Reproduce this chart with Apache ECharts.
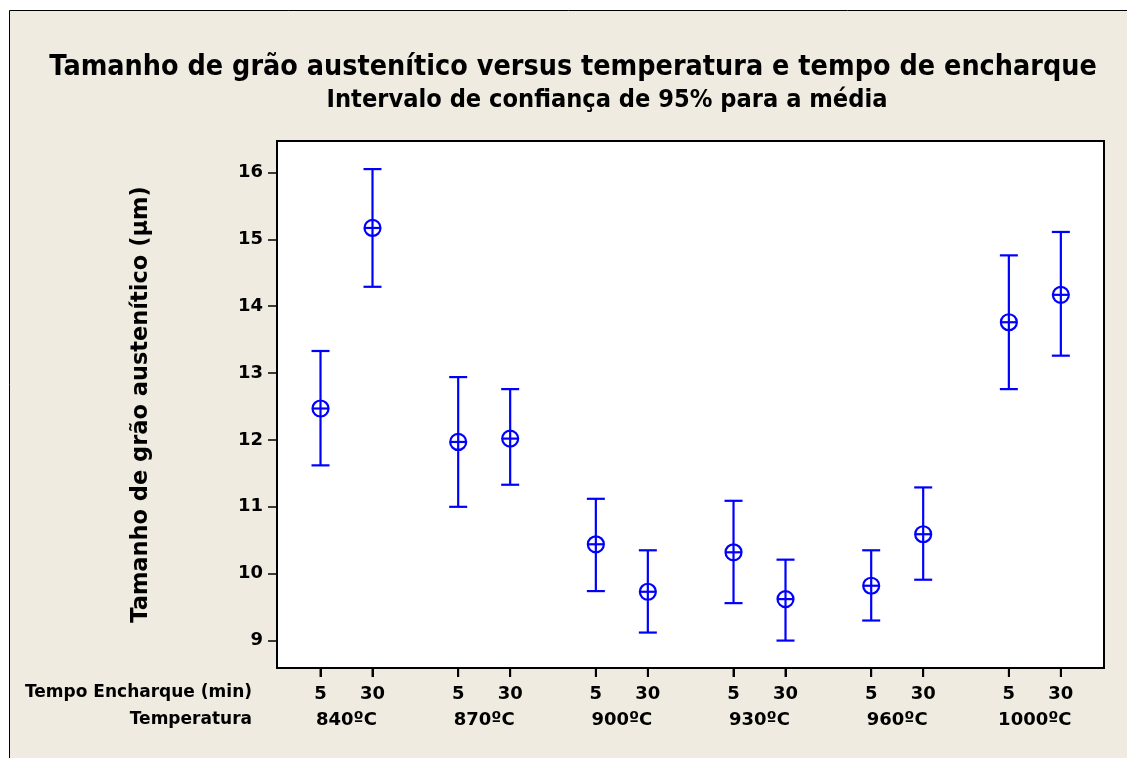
<!DOCTYPE html>
<html>
<head>
<meta charset="utf-8">
<script src="https://cdn.jsdelivr.net/npm/echarts@6/dist/echarts.min.js"></script>
<style>
html,body{margin:0;padding:0;background:#fff;}
#chart{width:1127px;height:758px;}
</style>
</head>
<body>
<div id="chart"></div>
<script>
// ---- data ----
var temperatures = ['840ºC', '870ºC', '900ºC', '930ºC', '960ºC', '1000ºC'];
var soakTimes = ['5', '30'];
var means = [12.47, 15.17, 11.97, 12.02, 10.44, 9.73, 10.32, 9.62, 9.82, 10.59, 13.76, 14.17];
var lowers = [11.62, 14.29, 11.00, 11.33, 9.74, 9.12, 9.56, 9.00, 9.30, 9.91, 12.76, 13.26];
var uppers = [13.33, 16.05, 12.94, 12.76, 11.12, 10.35, 11.09, 10.21, 10.35, 11.29, 14.76, 15.11];
var yTicks = [9, 10, 11, 12, 13, 14, 15, 16];

var titleText = 'Tamanho de grão austenítico versus temperatura e tempo de encharque';
var subtitleText = 'Intervalo de confiança de 95% para a média';
var yName = 'Tamanho de grão austenítico (µm)';
var row1Name = 'Tempo Encharque (min)';
var row2Name = 'Temperatura';

// ---- layout (x slot positions on a value axis) ----
var GROUP_STEP = 2.648;
var Y_MIN = 8.59, Y_MAX = 16.47;
var xPos = [], xLabelOf = {}, groupCenters = [], groupLabelOf = {};
temperatures.forEach(function (t, g) {
  soakTimes.forEach(function (s, i) {
    var p = +(g * GROUP_STEP + i).toFixed(4);
    xPos.push(p);
    xLabelOf[p.toFixed(4)] = s;
  });
  var c = +(g * GROUP_STEP + 0.5).toFixed(4);
  groupCenters.push(c);
  groupLabelOf[c.toFixed(4)] = t;
});
var seriesData = means.map(function (m, i) { return [xPos[i], m, lowers[i], uppers[i]]; });

var FONT = '"DejaVu Sans", Verdana, sans-serif';
var BLUE = '#0000FF';

var chart = echarts.init(document.getElementById('chart'), null, {renderer: 'canvas'});
chart.setOption({
  backgroundColor: '#EFEBE1',
  animation: false,
  graphic: [
    {type: 'rect', silent: true, shape: {x: 0, y: 0, width: 1127, height: 10}, style: {fill: '#fff'}},
    {type: 'rect', silent: true, shape: {x: 0, y: 0, width: 9, height: 758}, style: {fill: '#fff'}},
    {type: 'line', silent: true, shape: {x1: 9.5, y1: 10.5, x2: 1127, y2: 10.5}, style: {stroke: '#000', lineWidth: 1}},
    {type: 'line', silent: true, shape: {x1: 9.5, y1: 10.5, x2: 9.5, y2: 758}, style: {stroke: '#000', lineWidth: 1}},
    {type: 'text', x: 573, y: 68, scaleX: 0.914, style: {text: titleText, font: 'bold 28px ' + FONT, fill: '#000', textAlign: 'center', textVerticalAlign: 'middle'}},
    {type: 'text', x: 607, y: 101, scaleX: 0.943, style: {text: subtitleText, font: 'bold 24px ' + FONT, fill: '#000', textAlign: 'center', textVerticalAlign: 'middle'}},
    {type: 'text', x: 252, y: 693, style: {text: row1Name, font: 'bold 17px ' + FONT, fill: '#000', textAlign: 'right', textVerticalAlign: 'middle'}},
    {type: 'text', x: 252, y: 720, style: {text: row2Name, font: 'bold 17px ' + FONT, fill: '#000', textAlign: 'right', textVerticalAlign: 'middle'}}
  ],
  grid: {left: 277, right: 23, top: 141, bottom: 90, show: true, backgroundColor: '#fff', borderColor: '#000', borderWidth: 2, containLabel: false},
  xAxis: [{
    type: 'value', min: -0.837, max: 15.07, position: 'bottom', z: 10,
    splitLine: {show: false},
    axisLine: {show: true, onZero: false, lineStyle: {color: '#000', width: 2}},
    axisTick: {show: true, inside: false, customValues: xPos, length: 9, lineStyle: {color: '#000', width: 2}},
    axisLabel: {show: true, customValues: xPos, margin: 17, color: '#000', fontFamily: FONT, fontWeight: 'bold', fontSize: 18,
      formatter: function (v) { return xLabelOf[(+v).toFixed(4)] || ''; }}
  }, {
    type: 'value', min: -0.837, max: 15.07, position: 'bottom',
    splitLine: {show: false}, axisLine: {show: false, onZero: false}, axisTick: {show: false},
    axisLabel: {show: true, customValues: groupCenters, margin: 43, color: '#000', fontFamily: FONT, fontWeight: 'bold', fontSize: 18,
      formatter: function (v) { return groupLabelOf[(+v).toFixed(4)] || ''; }}
  }],
  yAxis: {
    type: 'value', min: Y_MIN, max: Y_MAX, position: 'left',
    name: yName, nameLocation: 'middle', nameGap: 124, nameRotate: 90,
    nameTextStyle: {color: '#000', fontFamily: FONT, fontWeight: 'bold', fontSize: 22.5},
    splitLine: {show: false},
    axisLine: {show: true, onZero: false, lineStyle: {color: '#000', width: 2}},
    axisTick: {show: true, customValues: yTicks, length: 9, lineStyle: {color: '#000', width: 1.5}},
    axisLabel: {show: true, customValues: yTicks, margin: 14, color: '#000', fontFamily: FONT, fontWeight: 'bold', fontSize: 18}
  },
  series: [{
    type: 'custom',
    xAxisIndex: 0, yAxisIndex: 0,
    clip: false, z: 10,
    data: seriesData,
    renderItem: function (params, api) {
      var x = api.value(0);
      var pm = api.coord([x, api.value(1)]);
      var pl = api.coord([x, api.value(2)]);
      var pu = api.coord([x, api.value(3)]);
      var pb = api.coord([x, Y_MIN]);
      var cap = 9, r = 8;
      var st = {stroke: BLUE, lineWidth: 2.2, fill: null};
      return {type: 'group', children: [
        // axis tick under this slot (same place as the x-axis tick)
        {type: 'line', shape: {x1: pb[0], y1: pb[1], x2: pb[0], y2: pb[1] + 9}, style: {stroke: '#000', lineWidth: 2}},
        {type: 'line', shape: {x1: pl[0], y1: pl[1], x2: pu[0], y2: pu[1]}, style: st},
        {type: 'line', shape: {x1: pl[0] - cap, y1: pl[1], x2: pl[0] + cap, y2: pl[1]}, style: st},
        {type: 'line', shape: {x1: pu[0] - cap, y1: pu[1], x2: pu[0] + cap, y2: pu[1]}, style: st},
        {type: 'circle', shape: {cx: pm[0], cy: pm[1], r: r}, style: {stroke: BLUE, lineWidth: 2.2, fill: 'none'}},
        {type: 'line', shape: {x1: pm[0] - r, y1: pm[1], x2: pm[0] + r, y2: pm[1]}, style: st}
      ]};
    }
  }]
});
</script>
</body>
</html>
